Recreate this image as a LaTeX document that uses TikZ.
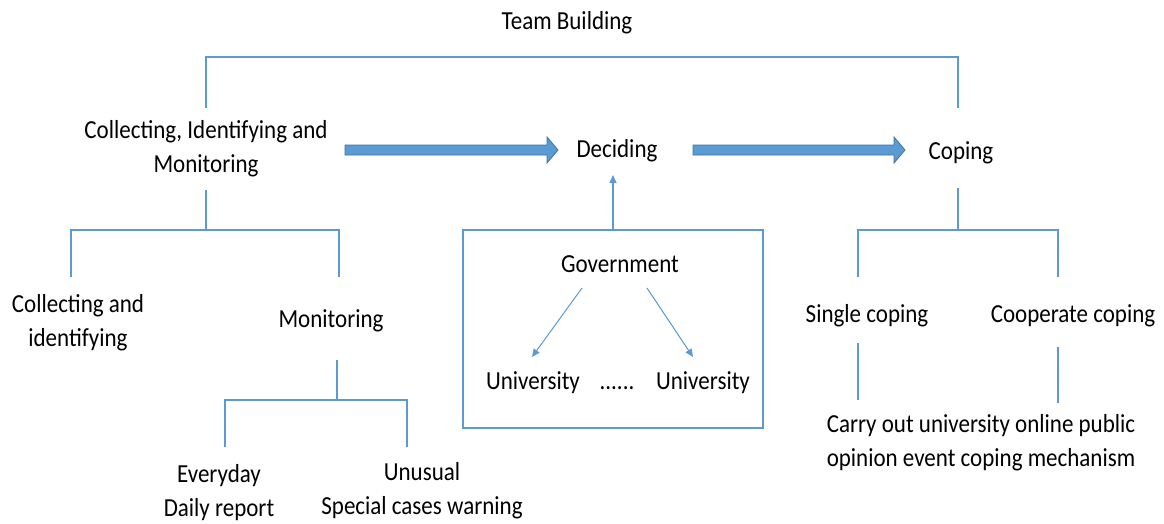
\documentclass[tikz,border=0pt]{standalone}
\usepackage{fontspec}
\setmainfont{Carlito}
\usetikzlibrary{arrows.meta,calc}
\definecolor{lineblue}{HTML}{5B9BD5}
\definecolor{arrowedge}{HTML}{41719C}
% slightly condensed-looking text: stretched vertically
\newcommand\tallbox[1]{\scalebox{1}[1.13]{\begin{tabular}{@{}c@{}}#1\end{tabular}}}
\begin{document}
\begin{tikzpicture}[x=1pt,y=-1pt,
  lbl/.style={inner sep=0pt,yshift=-1pt,font=\fontsize{23}{30}\selectfont},
  link/.style={draw=lineblue,line width=1.4pt},
  tip/.style={link,-{Triangle[length=8pt,width=7pt]}},
  fatarrow/.style={draw=arrowedge,fill=lineblue,line width=0.8pt,line join=miter}]
\useasboundingbox (0,0) rectangle (1164,524);

% labels
\node[lbl] (team) at (567,22) {\tallbox{Team Building}};
\node[lbl] (cim) at (206,148) {\tallbox{Collecting, Identifying and\\Monitoring}};
\node[lbl] (dec) at (617,150) {\tallbox{Deciding}};
\node[lbl] (cop) at (961,152) {\tallbox{Coping}};
\node[lbl] (ci) at (78,322) {\tallbox{Collecting and\\identifying}};
\node[lbl] (mon) at (331,320) {\tallbox{Monitoring}};
\node[lbl] (every) at (219,492) {\tallbox{Everyday\\Daily report}};
\node[lbl] (unus) at (422,490) {\tallbox{Unusual\\Special cases warning}};
\node[lbl] (gov) at (620,265) {\tallbox{Government}};
\node[lbl] (uni1) at (533,382) {\tallbox{University}};
\node[lbl] (dots) at (617,382) {\tallbox{......}};
\node[lbl] (uni2) at (703,382) {\tallbox{University}};
\node[lbl] (single) at (867,315) {\tallbox{Single coping}};
\node[lbl] (coop) at (1073,315) {\tallbox{Cooperate coping}};
\node[lbl] (carry) at (981,442) {\tallbox{Carry out university online public\\opinion event coping mechanism}};

% government box
\node[draw=lineblue,line width=1.4pt,minimum width=300pt,minimum height=198pt,inner sep=0pt]
  (govbox) at (613,329) {};

% team building bracket
\coordinate (tbL) at (206,57);
\coordinate (tbR) at (958,57);
\coordinate (tbLd) at (206,108);
\coordinate (tbRd) at (958,108);
\draw[link] (tbLd) -- (tbL) -- (tbR) -- (tbRd);

% collecting branch
\coordinate (c0) at (206,190);
\coordinate (c1) at (206,230);
\coordinate (cL) at (71,230);
\coordinate (cR) at (339,230);
\coordinate (cLd) at (71,277);
\coordinate (cRd) at (339,277);
\draw[link] (c0) -- (c1);
\draw[link] (cLd) -- (cL) -- (cR) -- (cRd);

% monitoring branch
\coordinate (m0) at (337,360);
\coordinate (m1) at (337,400);
\coordinate (mL) at (225,400);
\coordinate (mR) at (407,400);
\coordinate (mLd) at (225,447);
\coordinate (mRd) at (407,447);
\draw[link] (m0) -- (m1);
\draw[link] (mLd) -- (mL) -- (mR) -- (mRd);

% coping branch
\coordinate (k0) at (958,188);
\coordinate (k1) at (958,230);
\coordinate (kL) at (858,230);
\coordinate (kR) at (1058,230);
\coordinate (kLd) at (858,277);
\coordinate (kRd) at (1058,277);
\draw[link] (k0) -- (k1);
\draw[link] (kLd) -- (kL) -- (kR) -- (kRd);
\coordinate (s0) at (858,343);
\coordinate (s1) at (858,400);
\coordinate (q0) at (1058,347);
\coordinate (q1) at (1058,403);
\draw[link] (s0) -- (s1);
\draw[link] (q0) -- (q1);

% arrows around the government box
\draw[tip] (govbox.north) -- (613,175);
\coordinate (g1) at (582,288);
\coordinate (g2) at (647,288);
\coordinate (u1) at (532,357);
\coordinate (u2) at (693,357);
\draw[tip,line width=1pt] (g1) -- (u1);
\draw[tip,line width=1pt] (g2) -- (u2);

% main flow arrows: shaft 10pt, head 26pt wide and 11pt long
\coordinate (a1s) at (345,150);
\coordinate (a1t) at (558,150);
\coordinate (a2s) at (693,150);
\coordinate (a2t) at (905,150);
\foreach \s/\t in {a1s/a1t,a2s/a2t}{
  \draw[fatarrow] ($(\s)+(0,-5)$) -- ($(\t)+(-11,-5)$) -- ($(\t)+(-11,-13)$)
    -- (\t) -- ($(\t)+(-11,13)$) -- ($(\t)+(-11,5)$) -- ($(\s)+(0,5)$) -- cycle;
}
\end{tikzpicture}
\end{document}
